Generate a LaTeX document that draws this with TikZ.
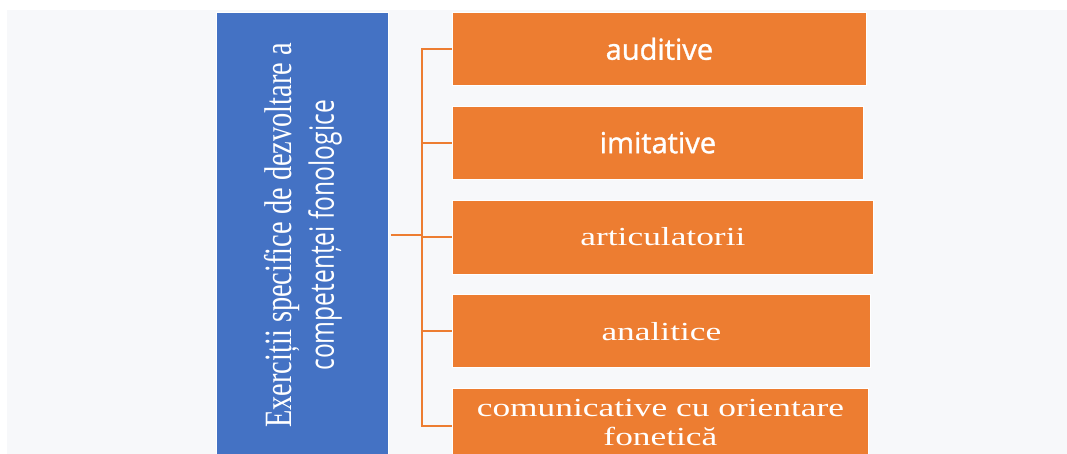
\documentclass[tikz,border=0pt]{standalone}
\usepackage{fontspec}
\setmainfont{Liberation Serif}
\newfontfamily\labelsans{Open Sans}
\newfontfamily\leafsans{Open Sans}[FakeBold=1.2]
\usetikzlibrary{positioning}

\definecolor{panelgray}{HTML}{F7F8FA}
\definecolor{topicblue}{HTML}{4472C4}
\definecolor{leaforange}{HTML}{ED7D31}

% serif lettering is set wider than it is tall
\newcommand{\widetext}[1]{\scalebox{1.36}[1]{#1}}
\newcommand{\tallstack}[1]{\scalebox{1}[1.36]{#1}}

\begin{document}
\begin{tikzpicture}[x=1pt, y=-1pt,
	topicbox/.style={draw=white, line width=0.8pt, fill=topicblue, anchor=north west, inner sep=0pt},
	leaf/.style={draw=white, line width=0.8pt, fill=leaforange, text=white, inner sep=0pt, minimum height=73pt},
	serifleaf/.style={leaf, font=\fontsize{26}{29}\selectfont},
	sansleaf/.style={leaf, font=\leafsans\fontsize{29}{34}\selectfont},
	link/.style={draw=leaforange, line width=2.2pt}]
	\clip (0,0) rectangle (1067,454);
	\fill[white] (0,0) rectangle (1067,454);
	\fill[panelgray] (7,10) rectangle (1067,454);

	\node[topicbox, minimum width=172pt, minimum height=446pt] (topic) at (216,12) {};
	\node[rotate=90, text=white, inner sep=0pt] (topiclabel) at ([xshift=2pt]topic.center)
		{\tallstack{\fontsize{28.4}{31}\selectfont\begin{tabular}{@{}c@{}}
			Exerciții specifice de dezvoltare a\\
			\labelsans\fontsize{24.6}{31}\selectfont competenței fonologice
		\end{tabular}}};

	\node[sansleaf, anchor=north west, minimum width=414pt] (b1) at (452,12) {auditive};
	\node[sansleaf, minimum width=411pt] (b2) [below right=20pt and 0pt of b1.south west] {imitative};
	\node[serifleaf, minimum width=421pt, minimum height=74pt] (b3) [below right=20pt and 0pt of b2.south west] {\widetext{articulatorii}};
	\node[serifleaf, minimum width=418pt] (b4) [below right=20pt and 0pt of b3.south west] {\widetext{analitice}};
	\node[serifleaf, minimum width=416pt, minimum height=74pt] (b5) [below right=20pt and 0pt of b4.south west]
		{\widetext{\begin{tabular}{@{}c@{}}comunicative cu orientare\\ fonetică\end{tabular}}};

	% bracket joining the topic to its five kinds
	\coordinate (hub) at ([xshift=33pt]topic.east);
	\draw[link, shorten <=2pt] (topic.east) -- (hub);
	\draw[link] (b1.west) -- (hub |- b1.west) -- (hub |- b5.west) -- (b5.west);
	\foreach \b in {b2,b3,b4}
		\draw[link] (hub |- \b.west) -- (\b.west);
\end{tikzpicture}
\end{document}
